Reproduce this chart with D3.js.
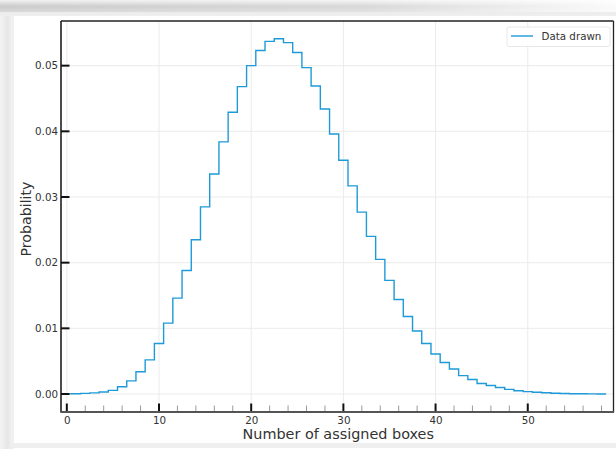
<!DOCTYPE html>
<html>
<head>
<meta charset="utf-8">
<script src="https://cdn.jsdelivr.net/npm/d3@7"></script>
<style>
  body { margin: 0; background: #fff; }
  .chart-text { font-family: "DejaVu Sans", sans-serif; fill: #333; }
</style>
</head>
<body>
<div id="chart-area"></div>
<script>
// number of assigned boxes (bin centres) and their probability
const boxes = [0, 1, 2, 3, 4, 5, 6, 7, 8, 9, 10, 11, 12, 13, 14, 15, 16, 17, 18, 19,
  20, 21, 22, 23, 24, 25, 26, 27, 28, 29, 30, 31, 32, 33, 34, 35, 36, 37, 38, 39,
  40, 41, 42, 43, 44, 45, 46, 47, 48, 49, 50, 51, 52, 53, 54, 55, 56, 57, 58];
const probs = [0.00002, 0.00004, 0.00009, 0.00017, 0.0003, 0.00056, 0.0011, 0.002, 0.0034, 0.0052,
  0.0077, 0.0108, 0.0146, 0.0188, 0.0235, 0.0285, 0.0335, 0.0384, 0.0429, 0.0468,
  0.05, 0.0523, 0.0537, 0.0541, 0.0535, 0.052, 0.0497, 0.0469, 0.0434, 0.0396,
  0.0356, 0.0317, 0.0277, 0.024, 0.0205, 0.0173, 0.0144, 0.0118, 0.0096, 0.0077,
  0.0061, 0.0048, 0.0038, 0.0028, 0.0022, 0.0016, 0.0013, 0.001, 0.0007, 0.0005,
  0.00037, 0.00026, 0.00018, 0.00012, 0.00008, 0.00005, 0.00003, 0.00002, 0.00001];

const xMajorTicks = [0, 10, 20, 30, 40, 50];
const xMinorTicks = [2, 4, 6, 8, 12, 14, 16, 18, 22, 24, 26, 28, 32, 34, 36, 38,
  42, 44, 46, 48, 52, 54, 56, 58];
const yTicks = [0, 0.01, 0.02, 0.03, 0.04, 0.05];

const seriesName = "Data drawn";
const xLabel = "Number of assigned boxes";
const yLabel = "Probability";

const chart = {
  totalWidth: 616,
  totalHeight: 449,
  left: 61,
  right: 613.5,
  top: 21,
  bottom: 412,
  lineColor: "#1e9ad8",

  svg: undefined,
  xScale: undefined,
  yScale: undefined,

  setup: function() {
    this.svg = d3.select("#chart-area")
      .append("svg")
        .attr("width", this.totalWidth)
        .attr("height", this.totalHeight);

    this.xScale = d3.scaleLinear()
      .domain([-0.63, 59.3])
      .range([this.left, this.right]);

    this.yScale = d3.scaleLinear()
      .domain([-0.00274, 0.0568])
      .range([this.bottom, this.top]);
  },

  // the screenshot frame with its shadow
  drawFrame: function() {
    const defs = this.svg.append("defs");

    const topGrad = defs.append("linearGradient")
      .attr("id", "top-shade").attr("x1", 0).attr("y1", 0).attr("x2", 0).attr("y2", 1);
    topGrad.append("stop").attr("offset", "0%").attr("stop-color", "#f2f2f2");
    topGrad.append("stop").attr("offset", "40%").attr("stop-color", "#cbcbcb");
    topGrad.append("stop").attr("offset", "72%").attr("stop-color", "#d8d8d8");
    topGrad.append("stop").attr("offset", "78%").attr("stop-color", "#ececec");
    topGrad.append("stop").attr("offset", "100%").attr("stop-color", "#efefef");

    const fadeGrad = defs.append("linearGradient")
      .attr("id", "top-fade").attr("x1", 0).attr("y1", 0).attr("x2", 1).attr("y2", 0);
    fadeGrad.append("stop").attr("offset", "0%").attr("stop-color", "#fff").attr("stop-opacity", 0);
    fadeGrad.append("stop").attr("offset", "60%").attr("stop-color", "#fff").attr("stop-opacity", 0.25);
    fadeGrad.append("stop").attr("offset", "100%").attr("stop-color", "#fff").attr("stop-opacity", 0.9);

    const leftGrad = defs.append("linearGradient")
      .attr("id", "left-shade").attr("x1", 0).attr("y1", 0).attr("x2", 1).attr("y2", 0);
    leftGrad.append("stop").attr("offset", "0%").attr("stop-color", "#f4f4f4");
    leftGrad.append("stop").attr("offset", "55%").attr("stop-color", "#e6e6e6");
    leftGrad.append("stop").attr("offset", "75%").attr("stop-color", "#eeeeee");
    leftGrad.append("stop").attr("offset", "100%").attr("stop-color", "#f1f1f1");

    this.svg.append("rect")
      .attr("width", this.totalWidth).attr("height", this.totalHeight)
      .attr("fill", "#fff");

    this.svg.append("rect")
      .attr("x", 0).attr("y", 0).attr("width", 14).attr("height", this.totalHeight)
      .attr("fill", "url(#left-shade)");

    this.svg.append("rect")
      .attr("x", 0).attr("y", 0).attr("width", this.totalWidth).attr("height", 16)
      .attr("fill", "url(#top-shade)");
    this.svg.append("rect")
      .attr("x", 0).attr("y", 0).attr("width", this.totalWidth).attr("height", 12)
      .attr("fill", "url(#top-fade)");

    this.svg.append("rect")
      .attr("x", 10).attr("y", 443).attr("width", this.totalWidth - 10).attr("height", 5)
      .attr("fill", "#efefef");
  },

  drawGrid: function() {
    const g = this.svg.append("g").attr("class", "grid");

    g.selectAll("line.gx")
      .data(xMajorTicks)
      .enter().append("line")
        .attr("class", "gx")
        .attr("x1", d => this.xScale(d)).attr("x2", d => this.xScale(d))
        .attr("y1", this.top).attr("y2", this.bottom)
        .attr("stroke", "#ebebeb").attr("stroke-width", 1);

    g.selectAll("line.gy")
      .data(yTicks)
      .enter().append("line")
        .attr("class", "gy")
        .attr("x1", this.left).attr("x2", this.right)
        .attr("y1", d => this.yScale(d)).attr("y2", d => this.yScale(d))
        .attr("stroke", "#ebebeb").attr("stroke-width", 1);
  },

  drawSeries: function() {
    this.svg.select("defs").append("clipPath")
      .attr("id", "plot-clip")
      .append("rect")
        .attr("x", this.left).attr("y", this.top)
        .attr("width", this.right - this.left).attr("height", this.bottom - this.top);

    // bin edges: every box count covers [k - 0.5, k + 0.5]
    const points = boxes.map((b, i) => [b - 0.5, probs[i]]);
    points.push([boxes[boxes.length - 1] + 0.5, probs[probs.length - 1]]);

    const line = d3.line()
      .x(d => this.xScale(d[0]))
      .y(d => this.yScale(d[1]))
      .curve(d3.curveStepAfter);

    this.svg.append("path")
      .datum(points)
      .attr("clip-path", "url(#plot-clip)")
      .attr("fill", "none")
      .attr("stroke", this.lineColor)
      .attr("stroke-width", 1.4)
      .attr("d", line);
  },

  drawAxes: function() {
    // x axis: inward ticks, labels below
    const xAxisCall = d3.axisBottom(this.xScale)
      .tickValues(xMajorTicks)
      .tickSize(0)
      .tickPadding(0)
      .tickFormat(d3.format("d"));
    const xAxis = this.svg.append("g")
      .attr("transform", "translate(0," + this.bottom + ")")
      .call(xAxisCall);
    xAxis.select(".domain").remove();
    xAxis.selectAll("text")
      .attr("class", "chart-text")
      .attr("y", 12)
      .attr("dy", 0)
      .attr("font-size", "10.3px");

    this.svg.append("g").selectAll("line")
      .data(xMinorTicks)
      .enter().append("line")
        .attr("x1", d => this.xScale(d)).attr("x2", d => this.xScale(d))
        .attr("y1", this.bottom - 6.5).attr("y2", this.bottom)
        .attr("stroke", "#9a9a9a").attr("stroke-width", 1);

    this.svg.append("g").selectAll("line")
      .data(xMajorTicks)
      .enter().append("line")
        .attr("x1", d => this.xScale(d)).attr("x2", d => this.xScale(d))
        .attr("y1", this.bottom - 8.5).attr("y2", this.bottom)
        .attr("stroke", "#111").attr("stroke-width", 2);

    // y axis
    const yAxisCall = d3.axisLeft(this.yScale)
      .tickValues(yTicks)
      .tickSize(0)
      .tickPadding(3)
      .tickFormat(d3.format(".2f"));
    const yAxis = this.svg.append("g")
      .attr("transform", "translate(" + this.left + ",0)")
      .call(yAxisCall);
    yAxis.select(".domain").remove();
    yAxis.selectAll("text")
      .attr("class", "chart-text")
      .attr("font-size", "10.3px");

    this.svg.append("g").selectAll("line")
      .data(yTicks)
      .enter().append("line")
        .attr("x1", this.left).attr("x2", this.left + 8.5)
        .attr("y1", d => this.yScale(d)).attr("y2", d => this.yScale(d))
        .attr("stroke", "#111").attr("stroke-width", 2);

    // spines
    this.svg.append("line")
      .attr("x1", this.left).attr("x2", this.right)
      .attr("y1", this.top).attr("y2", this.top)
      .attr("stroke", "#222").attr("stroke-width", 1.3);
    this.svg.append("line")
      .attr("x1", this.right).attr("x2", this.right)
      .attr("y1", this.top).attr("y2", this.bottom)
      .attr("stroke", "#222").attr("stroke-width", 1.3);
    this.svg.append("line")
      .attr("x1", this.left).attr("x2", this.left)
      .attr("y1", this.top).attr("y2", this.bottom)
      .attr("stroke", "#111").attr("stroke-width", 1.5);
    this.svg.append("line")
      .attr("x1", this.left - 0.7).attr("x2", this.right + 0.6)
      .attr("y1", this.bottom).attr("y2", this.bottom)
      .attr("stroke", "#555").attr("stroke-width", 2);

    // axis labels
    this.svg.append("text")
      .attr("class", "chart-text")
      .attr("x", (this.left + this.right) / 2 + 1)
      .attr("y", 438.5)
      .attr("font-size", "14.4px")
      .attr("text-anchor", "middle")
      .text(xLabel);

    this.svg.append("text")
      .attr("class", "chart-text")
      .attr("transform", "translate(31," + 219 + ") rotate(-90)")
      .attr("font-size", "14.2px")
      .attr("text-anchor", "middle")
      .text(yLabel);
  },

  drawLegend: function() {
    const legend = this.svg.append("g")
      .attr("transform", "translate(507,27)");

    legend.append("rect")
      .attr("width", 103).attr("height", 19.5)
      .attr("rx", 2)
      .attr("fill", "#fff").attr("fill-opacity", 0.85)
      .attr("stroke", "#e2e2e2").attr("stroke-width", 0.8);

    legend.append("line")
      .attr("x1", 4).attr("x2", 26)
      .attr("y1", 9).attr("y2", 9)
      .attr("stroke", this.lineColor).attr("stroke-width", 1.4);

    legend.append("text")
      .attr("class", "chart-text")
      .attr("x", 34.5)
      .attr("y", 13)
      .attr("font-size", "10.3px")
      .text(seriesName);
  },

  start: function() {
    this.setup();
    this.drawFrame();
    this.drawGrid();
    this.drawSeries();
    this.drawAxes();
    this.drawLegend();
  }
};

chart.start();
</script>
</body>
</html>
